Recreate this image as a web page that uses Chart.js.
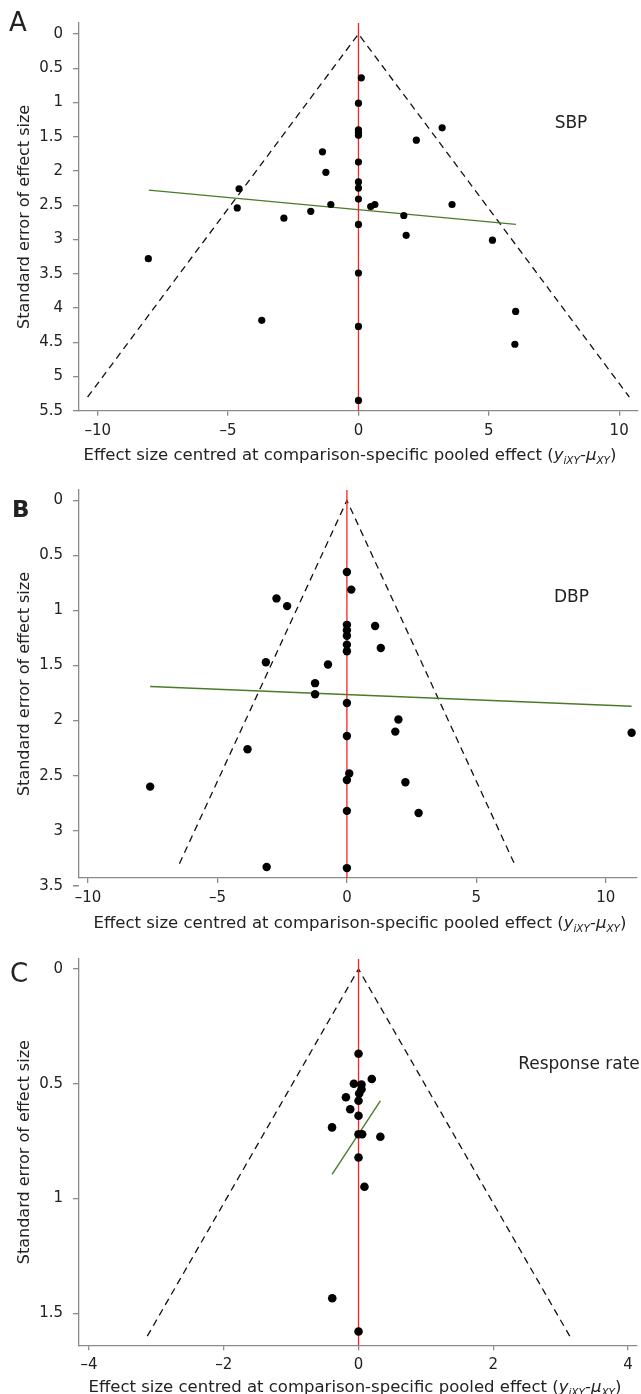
<!DOCTYPE html>
<html>
<head>
<meta charset="utf-8">
<script src="https://cdn.jsdelivr.net/npm/chart.js@4.4.1/dist/chart.umd.min.js"></script>
<style>
  html, body { margin: 0; padding: 0; background: #fff; overflow: hidden; }
  canvas { position: absolute; left: 0; }
</style>
</head>
<body>
<canvas id="chartA" width="641" height="470" style="top:0px"></canvas>
<canvas id="chartB" width="641" height="470" style="top:470px"></canvas>
<canvas id="chartC" width="641" height="460" style="top:940px"></canvas>
<script>
// ---- Panel A: SBP ----
const sbpX  = [0.11, 0, 0, 0, 0, 3.21, 2.22, -1.38, -1.25, 0, 0, 0, -4.58, 0, -4.65, -2.86,
               -1.83, -1.06, 0, 0.47, 0.63, 1.74, 1.83, 3.59, 5.14, -8.06, 0, -3.71, 0, 6.03, 6.0, 0];
const sbpSE = [0.64, 1.01, 1.40, 1.44, 1.48, 1.37, 1.55, 1.72, 2.02, 1.87, 2.16, 2.25, 2.26, 2.41, 2.54, 2.69,
               2.59, 2.49, 2.78, 2.52, 2.49, 2.65, 2.94, 2.49, 3.01, 3.28, 3.49, 4.18, 4.27, 4.05, 4.53, 5.35];
const sbpFitX = [-8.04, 6.04];
const sbpFitSE = [2.28, 2.78];
const sbpFunnelX = [-10.39, 0, 10.39];
const sbpFunnelSE = [5.3, 0, 5.3];
const sbpNullX = [0, 0];
const sbpNullSE = [-0.16, 5.5];
const sbpXTicks = [-10, -5, 0, 5, 10];
const sbpYTicks = [0, 0.5, 1, 1.5, 2, 2.5, 3, 3.5, 4, 4.5, 5, 5.5];

// ---- Panel B: DBP ----
const dbpX  = [0, 0.17, -2.72, -2.31, 0, 0, 0, 0, 0, 1.09, 1.31, -3.13, -0.73, -1.23, -1.23, 0,
               1.99, 1.87, 0, 11.0, -3.84, 0.09, 0, 2.26, -7.6, 0, 2.77, -3.1, 0];
const dbpSE = [0.65, 0.81, 0.89, 0.96, 1.13, 1.18, 1.23, 1.31, 1.37, 1.14, 1.34, 1.47, 1.49, 1.66, 1.76, 1.84,
               1.99, 2.10, 2.14, 2.11, 2.26, 2.48, 2.54, 2.56, 2.60, 2.82, 2.84, 3.33, 3.34];
const dbpFitX = [-7.6, 11.0];
const dbpFitSE = [1.69, 1.87];
const dbpFunnelX = [-6.47, 0, 6.47];
const dbpFunnelSE = [3.3, 0, 3.3];
const dbpNullX = [0, 0];
const dbpNullSE = [-0.095, 3.43];
const dbpXTicks = [-10, -5, 0, 5, 10];
const dbpYTicks = [0, 0.5, 1, 1.5, 2, 2.5, 3, 3.5];

// ---- Panel C: Response rate ----
const rrX  = [0, 0.197, -0.069, 0.044, 0.044, 0.01, -0.187, 0, -0.123, 0, -0.393, 0, 0.054, 0.324,
              0, 0.088, -0.39, 0];
const rrSE = [0.369, 0.479, 0.50, 0.503, 0.524, 0.542, 0.559, 0.574, 0.611, 0.639, 0.690, 0.72, 0.72, 0.731,
              0.821, 0.949, 1.435, 1.58];
const rrFitX = [-0.393, 0.324];
const rrFitSE = [0.895, 0.574];
const rrFunnelX = [-3.136, 0, 3.136];
const rrFunnelSE = [1.6, 0, 1.6];
const rrNullX = [0, 0];
const rrNullSE = [-0.044, 1.64];
const rrXTicks = [-4, -2, 0, 2, 4];
const rrYTicks = [0, 0.5, 1, 1.5];

const yTitle = 'Standard error of effect size';
const xTitleParts = [
  ['Effect size centred at comparison-specific pooled effect (', 'n'],
  ['y', 'i'], ['iXY', 's'], ['-', 'n'], ['\u03bc', 'i'], ['XY', 's'], [')', 'n']
];

const FAM = '"DejaVu Sans", sans-serif';
const TXT = '#222';
const AXIS = '#8a8a8a';

const toPts = (xs, ys) => xs.map((v, i) => ({ x: v, y: ys[i] }));

// draws panel letter, outcome label and the x title (has subscripts)
const panelText = {
  id: 'panelText',
  afterDraw(chart, args, o) {
    const c = chart.ctx;
    const a = chart.chartArea;
    const ys = chart.scales.y;
    c.save();
    // tick marks for y ticks that sit just below the x axis (Stata style)
    c.strokeStyle = AXIS;
    c.lineWidth = 1.3;
    ys.ticks.forEach(t => {
      const py = ys.getPixelForValue(t.value);
      if (py > a.bottom + 1) {
        c.beginPath(); c.moveTo(a.left - 6, py); c.lineTo(a.left, py); c.stroke();
      }
    });

    c.fillStyle = TXT;
    c.textBaseline = 'alphabetic';
    c.textAlign = 'left';
    c.font = o.letterFont;
    c.fillText(o.letter, o.letterX, o.letterBase);
    c.font = '17px ' + FAM;
    c.textAlign = 'center';
    c.fillText(o.label, o.labelX, o.labelBase);

    c.textAlign = 'left';
    const fonts = { n: '16.5px ' + FAM, i: 'italic 16.5px ' + FAM, s: 'italic 10.5px ' + FAM };
    let w = 0;
    xTitleParts.forEach(p => { c.font = fonts[p[1]]; w += c.measureText(p[0]).width; });
    let x = o.titleCenter - w / 2;
    const base = a.bottom + o.titleOffset;
    xTitleParts.forEach(p => {
      c.font = fonts[p[1]];
      c.fillText(p[0], x, base + (p[1] === 's' ? 3.5 : 0));
      x += c.measureText(p[0]).width;
    });
    c.restore();
  }
};

function buildPanel(id, d, lay) {
  new Chart(document.getElementById(id), {
    type: 'scatter',
    data: {
      datasets: [
        { data: toPts(d.x, d.se), pointRadius: lay.radius, pointHoverRadius: lay.radius,
          pointBackgroundColor: '#000', pointBorderWidth: 0 },
        { data: toPts(d.nullX, d.nullSE), showLine: true, borderColor: '#ff1f1f', borderWidth: 1.3, pointRadius: 0 },
        { data: toPts(d.fitX, d.fitSE), showLine: true, borderColor: '#4b7b29', borderWidth: 1.4, pointRadius: 0 },
        { data: toPts(d.funnelX, d.funnelSE), showLine: true, borderColor: '#111', borderWidth: 1.3,
          borderDash: [7, 5], pointRadius: 0 }
      ]
    },
    options: {
      responsive: false,
      animation: false,
      devicePixelRatio: 1,
      layout: { padding: { top: lay.top, right: lay.right, left: 0, bottom: 0 } },
      plugins: {
        legend: { display: false },
        tooltip: { enabled: false },
        panelText: lay.text
      },
      scales: {
        x: {
          type: 'linear',
          min: lay.xMin, max: lay.xMax,
          afterBuildTicks: s => { s.ticks = d.xTicks.map(v => ({ value: v })); },
          afterFit: s => { s.height = lay.xh; },
          grid: { drawOnChartArea: false, tickLength: 5, color: AXIS, tickColor: AXIS, lineWidth: 1.3 },
          border: { color: AXIS, width: 1.3 },
          ticks: { autoSkip: false, maxRotation: 0, padding: 6, color: TXT,
                   font: { family: FAM, size: 15 },
                   callback: v => v < 0 ? '\u2013' + Math.abs(v) : String(v) }
        },
        y: {
          type: 'linear',
          reverse: true,
          min: lay.yMin, max: lay.yMax,
          afterBuildTicks: s => { s.ticks = d.yTicks.map(v => ({ value: v })); },
          afterFit: s => { s.width = 79; },
          grid: { drawOnChartArea: false, tickLength: 6, color: AXIS, tickColor: AXIS, lineWidth: 1.3 },
          border: { color: AXIS, width: 1.3 },
          ticks: { autoSkip: false, padding: 10, color: TXT,
                   font: { family: FAM, size: 15 },
                   callback: v => String(v) },
          title: { display: true, text: yTitle, color: TXT,
                   font: { family: FAM, size: 16 }, padding: { top: 15, bottom: 0 } }
        }
      }
    },
    plugins: [panelText]
  });
}

buildPanel('chartA',
  { x: sbpX, se: sbpSE, fitX: sbpFitX, fitSE: sbpFitSE, funnelX: sbpFunnelX, funnelSE: sbpFunnelSE,
    nullX: sbpNullX, nullSE: sbpNullSE, xTicks: sbpXTicks, yTicks: sbpYTicks },
  { xMin: -10.72, xMax: 10.7, yMin: -0.16, yMax: 5.5, top: 23, right: 1, xh: 59.3, radius: 3.6,
    text: { letter: 'A', letterFont: '26px ' + FAM, letterX: 9, letterBase: 31,
            label: 'SBP', labelX: 571, labelBase: 127.7, titleCenter: 350, titleOffset: 49.3 } });

buildPanel('chartB',
  { x: dbpX, se: dbpSE, fitX: dbpFitX, fitSE: dbpFitSE, funnelX: dbpFunnelX, funnelSE: dbpFunnelSE,
    nullX: dbpNullX, nullSE: dbpNullSE, xTicks: dbpXTicks, yTicks: dbpYTicks },
  { xMin: -10.35, xMax: 11.2, yMin: -0.095, yMax: 3.43, top: 20, right: 3.8, xh: 62, radius: 4.2,
    text: { letter: 'B', letterFont: 'bold 23px ' + FAM, letterX: 12, letterBase: 46.7,
            label: 'DBP', labelX: 571.5, labelBase: 131.7, titleCenter: 360, titleOffset: 50 } });

buildPanel('chartC',
  { x: rrX, se: rrSE, fitX: rrFitX, fitSE: rrFitSE, funnelX: rrFunnelX, funnelSE: rrFunnelSE,
    nullX: rrNullX, nullSE: rrNullSE, xTicks: rrXTicks, yTicks: rrYTicks },
  { xMin: -4.15, xMax: 4.13, yMin: -0.044, yMax: 1.64, top: 19, right: 1, xh: 54.7, radius: 4.3,
    text: { letter: 'C', letterFont: '26px ' + FAM, letterX: 10, letterBase: 41.7,
            label: 'Response rate', labelX: 579, labelBase: 129.3, titleCenter: 355, titleOffset: 46.7 } });
</script>
</body>
</html>
